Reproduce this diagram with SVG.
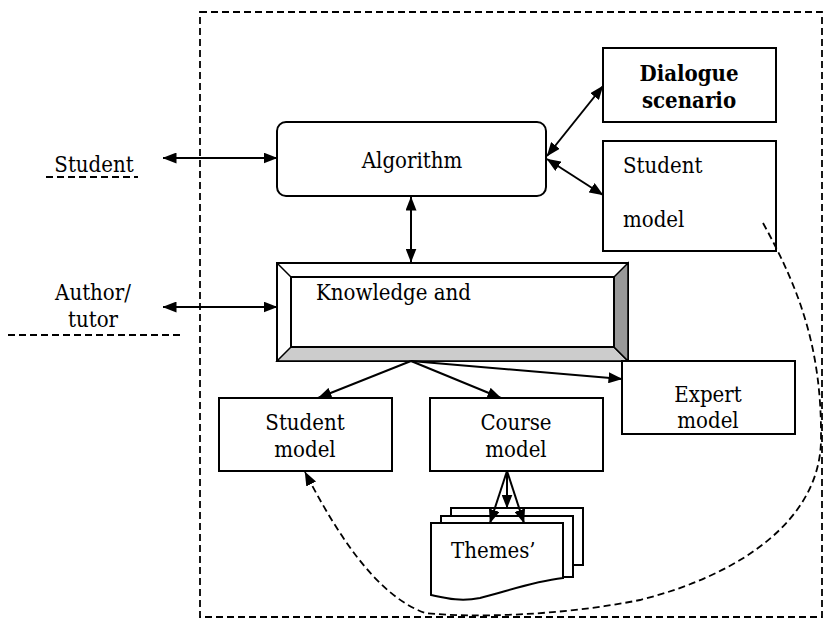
<svg xmlns="http://www.w3.org/2000/svg" width="828" height="620" viewBox="0 0 828 620">
  <defs>
    <marker id="ah" viewBox="0 0 14 11" refX="13.5" refY="5.5" markerWidth="14" markerHeight="11" markerUnits="userSpaceOnUse" orient="auto-start-reverse">
      <path d="M0,0 L14,5.5 L0,11 Z" fill="#000"/>
    </marker>
  </defs>
  <style>
    text { font-family: "DejaVu Serif Condensed", "DejaVu Serif", serif; font-stretch: condensed; font-size: 22px; fill: #000; }
    .c { text-anchor: middle; }
    .b { font-weight: bold; }
    .box { fill: #fff; stroke: #000; stroke-width: 2; }
    .dash { fill: none; stroke: #000; stroke-width: 1.8; stroke-dasharray: 7 4; }
    .arr { fill: none; stroke: #000; stroke-width: 2; }
    .bi { marker-start: url(#ah); marker-end: url(#ah); }
    .one { marker-end: url(#ah); }
  </style>

  <rect width="828" height="620" fill="#fff"/>

  <!-- system boundary -->
  <rect class="dash" x="200" y="12" width="622" height="605"/>

  <!-- actors outside the boundary -->
  <g id="student-actor">
    <text x="94" y="172" class="c">Student</text>
    <line class="dash" x1="46" y1="177" x2="138" y2="177"/>
  </g>
  <g id="author-actor">
    <text x="93" y="300" class="c">Author/</text>
    <text x="93" y="327" class="c">tutor</text>
    <line class="dash" x1="8" y1="335" x2="182" y2="335"/>
  </g>

  <g id="algorithm">
    <rect class="box" x="277" y="122" width="269" height="74" rx="9"/>
    <text x="412" y="168" class="c">Algorithm</text>
  </g>

  <g id="dialogue-scenario">
    <rect class="box" x="603" y="48" width="173" height="74"/>
    <text x="689" y="81" class="c b">Dialogue</text>
    <text x="689" y="108" class="c b">scenario</text>
  </g>

  <g id="student-model-top">
    <rect class="box" x="603" y="141" width="173" height="110"/>
    <text x="623" y="173">Student</text>
    <text x="623" y="227">model</text>
  </g>

  <g id="knowledge">
    <rect x="277" y="263" width="351" height="98" fill="#fff" stroke="#000" stroke-width="2"/>
    <polygon points="277,361 291,347 614,347 628,361" fill="#cccccc" stroke="#000" stroke-width="1.5"/>
    <polygon points="628,263 614,277 614,347 628,361" fill="#999999" stroke="#000" stroke-width="1.5"/>
    <line x1="277" y1="263" x2="291" y2="277" stroke="#000" stroke-width="1.5"/>
    <rect x="291" y="277" width="323" height="70" fill="none" stroke="#000" stroke-width="2"/>
    <text x="316" y="300">Knowledge and</text>
  </g>

  <g id="student-model">
    <rect class="box" x="219" y="398" width="173" height="73"/>
    <text x="305" y="430" class="c">Student</text>
    <text x="305" y="457" class="c">model</text>
  </g>

  <g id="course-model">
    <rect class="box" x="430" y="398" width="173" height="73"/>
    <text x="516" y="430" class="c">Course</text>
    <text x="516" y="457" class="c">model</text>
  </g>

  <g id="expert-model">
    <rect class="box" x="622" y="361" width="173" height="73"/>
    <text x="708" y="402" class="c">Expert</text>
    <text x="708" y="428" class="c">model</text>
  </g>

  <g id="themes">
    <rect class="box" x="451" y="508" width="132" height="57"/>
    <rect class="box" x="441" y="516" width="132" height="61"/>
    <path class="box" d="M431,523 H563 V578 C530,582 505,592 480,598 C460,602 445,598 431,595 Z"/>
    <text x="451" y="558">Themes’</text>
  </g>

  <g id="connectors">
    <line class="arr bi" x1="163" y1="158" x2="277" y2="158"/>
    <line class="arr bi" x1="163" y1="307" x2="277" y2="307"/>
    <line class="arr bi" x1="411" y1="197" x2="411" y2="262"/>
    <line class="arr bi" x1="547" y1="156" x2="603" y2="86"/>
    <line class="arr bi" x1="547" y1="159" x2="603" y2="195"/>
    <line class="arr one" x1="411" y1="361" x2="318" y2="398"/>
    <line class="arr one" x1="411" y1="361" x2="501" y2="398"/>
    <line class="arr one" x1="411" y1="361" x2="622" y2="379"/>
    <line class="arr one" x1="507" y1="471" x2="490" y2="523"/>
    <line class="arr one" x1="507" y1="471" x2="507" y2="508"/>
    <line class="arr one" x1="507" y1="471" x2="524" y2="523"/>
    <path class="dash one" d="M763,223 C800,290 822,350 821,440 C820,520 740,575 640,600 C560,616 470,618 425,613 C375,595 335,530 305,472"/>
  </g>
</svg>
